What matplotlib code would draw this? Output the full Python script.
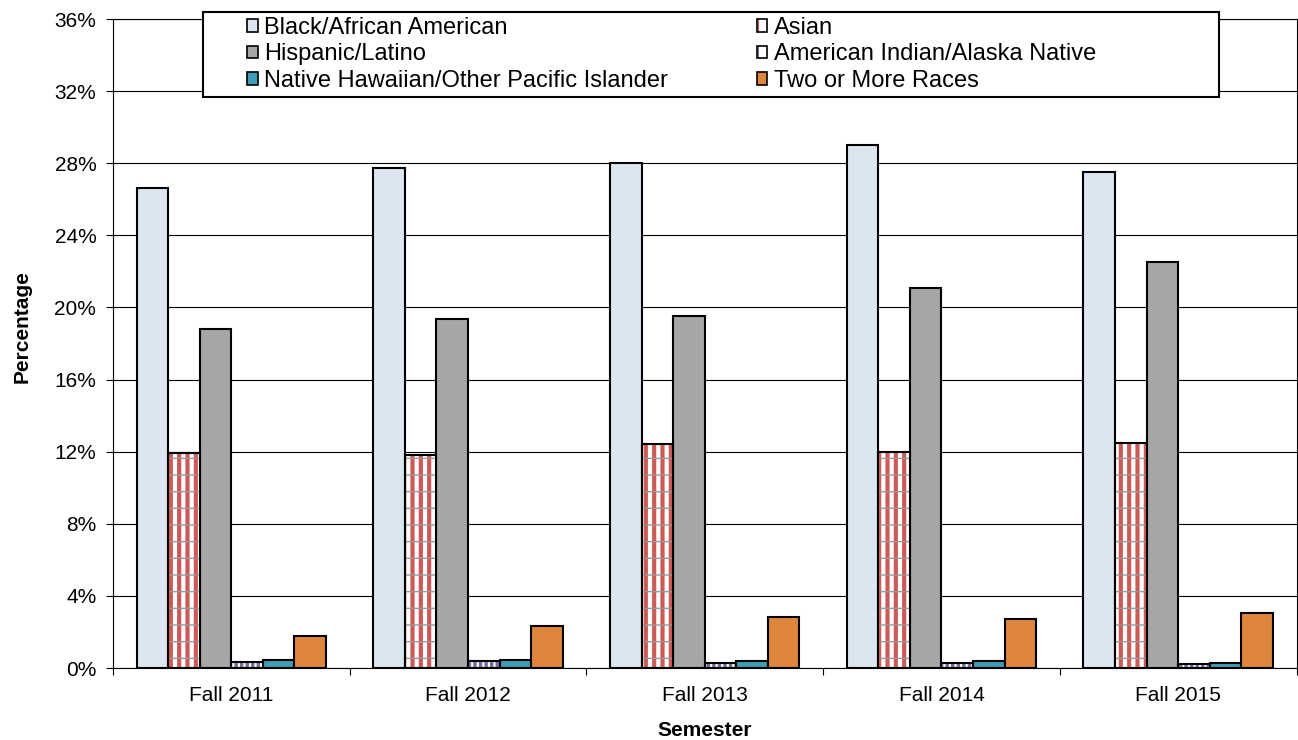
import matplotlib
matplotlib.use("Agg")
import matplotlib.pyplot as plt
import numpy as np
from matplotlib.patches import Rectangle
from matplotlib.legend_handler import HandlerTuple
from matplotlib.ticker import FixedLocator, FuncFormatter

plt.rcParams['font.family'] = ['Liberation Sans', 'DejaVu Sans']

semesters = ['Fall 2011', 'Fall 2012', 'Fall 2013', 'Fall 2014', 'Fall 2015']
black_aa = [26.6, 27.75, 28.0, 29.0, 27.5]
asian = [11.9, 11.8, 12.4, 12.0, 12.5]
hispanic = [18.8, 19.35, 19.5, 21.1, 22.5]
am_indian = [0.35, 0.4, 0.25, 0.25, 0.2]
hawaiian = [0.45, 0.47, 0.4, 0.37, 0.25]
two_more = [1.75, 2.35, 2.83, 2.7, 3.07]

fig = plt.figure(figsize=(12.98, 7.40), dpi=100)
ax = fig.add_axes([113/1298, 1-668/740, (1296.5-113)/1298, (668-19)/740])

x = np.arange(len(semesters))
w = 0.8 / 6
lw = 1.5

def off(k):
    return (k - 2.5) * w

# plain bars
ax.bar(x + off(0), black_aa, w, color='#DCE6F1', edgecolor='black', linewidth=lw, zorder=3)
ax.bar(x + off(2), hispanic, w, color='#A6A6A6', edgecolor='black', linewidth=lw, zorder=3)
ax.bar(x + off(4), hawaiian, w, color='#3E9DB4', edgecolor='black', linewidth=lw, zorder=3)
ax.bar(x + off(5), two_more, w, color='#DD853A', edgecolor='black', linewidth=lw, zorder=3)

# Asian: white, red vertical stripes, grey horizontal lines
plt.rcParams['hatch.linewidth'] = 3.0
ax.bar(x + off(1), asian, w, color='white', edgecolor='#CC5A57', hatch='||', linewidth=0, zorder=3)
plt.rcParams['hatch.linewidth'] = 1.0
ax.bar(x + off(1), asian, w, color='none', edgecolor='#999999', hatch='-', linewidth=0, zorder=3.1)
ax.bar(x + off(1), asian, w, color='none', edgecolor='black', linewidth=lw, zorder=3.2)

# American Indian: white with purple checks
plt.rcParams['hatch.linewidth'] = 2.5
ax.bar(x + off(3), am_indian, w, color='white', edgecolor='#7A68A0', hatch='|||', linewidth=0, zorder=3)
plt.rcParams['hatch.linewidth'] = 1.0
ax.bar(x + off(3), am_indian, w, color='none', edgecolor='black', linewidth=lw, zorder=3.2)

ax.set_xlim(-0.5, 4.5)
ax.set_ylim(0, 36)
ax.set_yticks(np.arange(0, 37, 4))
ax.yaxis.set_major_formatter(FuncFormatter(lambda v, p: '%d%%' % v))
ax.grid(axis='y', color='black', linewidth=0.8, zorder=0)
ax.set_axisbelow(True)

ax.xaxis.set_major_locator(FixedLocator(np.arange(-0.5, 5, 1)))
ax.xaxis.set_major_formatter(FuncFormatter(lambda v, p: ''))
ax.xaxis.set_minor_locator(FixedLocator(x))
ax.set_xticklabels(semesters, minor=True)
ax.tick_params(axis='x', which='major', length=5, width=0.8, direction='out')
ax.tick_params(axis='x', which='minor', length=0, pad=13, labelsize=15)
ax.tick_params(axis='y', length=5, width=0.8, direction='out', pad=7, labelsize=15)

for s in ax.spines.values():
    s.set_linewidth(0.8)
    s.set_color('black')

ax.set_xlabel('Semester', fontsize=15, fontweight='bold')
ax.set_ylabel('Percentage', fontsize=15, fontweight='bold')
ax.xaxis.set_label_coords(0.5, (668-721)/649)
ax.yaxis.set_label_coords((32-113)/1183.5, (668-327)/649)

# legend box
fig.patches.append(Rectangle((203/1298, 1-97/740), (1219-203)/1298, (97-12)/740,
                             transform=fig.transFigure, facecolor='white',
                             edgecolor='black', linewidth=1.5, zorder=5))

def box(face):
    return Rectangle((0, 0), 1, 1, facecolor=face, edgecolor='black', linewidth=1.2)

def hatched(col, h, hw):
    plt.rcParams['hatch.linewidth'] = hw
    p = Rectangle((0, 0), 1, 1, facecolor='white', edgecolor=col, hatch=h, linewidth=0)
    plt.rcParams['hatch.linewidth'] = 1.0
    return (p, Rectangle((0, 0), 1, 1, facecolor='none', edgecolor='black', linewidth=1.2))

handles = [box('#DCE6F1'), box('#A6A6A6'), box('#3E9DB4'),
           hatched('#CC5A57', '|', 3.0), hatched('#7A68A0', '|', 3.0), box('#DD853A')]
labels = ['Black/African American', 'Hispanic/Latino', 'Native Hawaiian/Other Pacific Islander',
          'Asian', 'American Indian/Alaska Native', 'Two or More Races']
leg = fig.legend(handles, labels, ncol=2, loc='upper left',
                 bbox_to_anchor=(247/1298, 1-17/740), bbox_transform=fig.transFigure,
                 frameon=False, fontsize=17, handlelength=0.45, handleheight=0.45,
                 handletextpad=0.28, columnspacing=3.75, labelspacing=0.19,
                 borderpad=0, borderaxespad=0,
                 handler_map={tuple: HandlerTuple(ndivide=1)})
leg.set_zorder(6)

fig.savefig('out.png', dpi=100)
